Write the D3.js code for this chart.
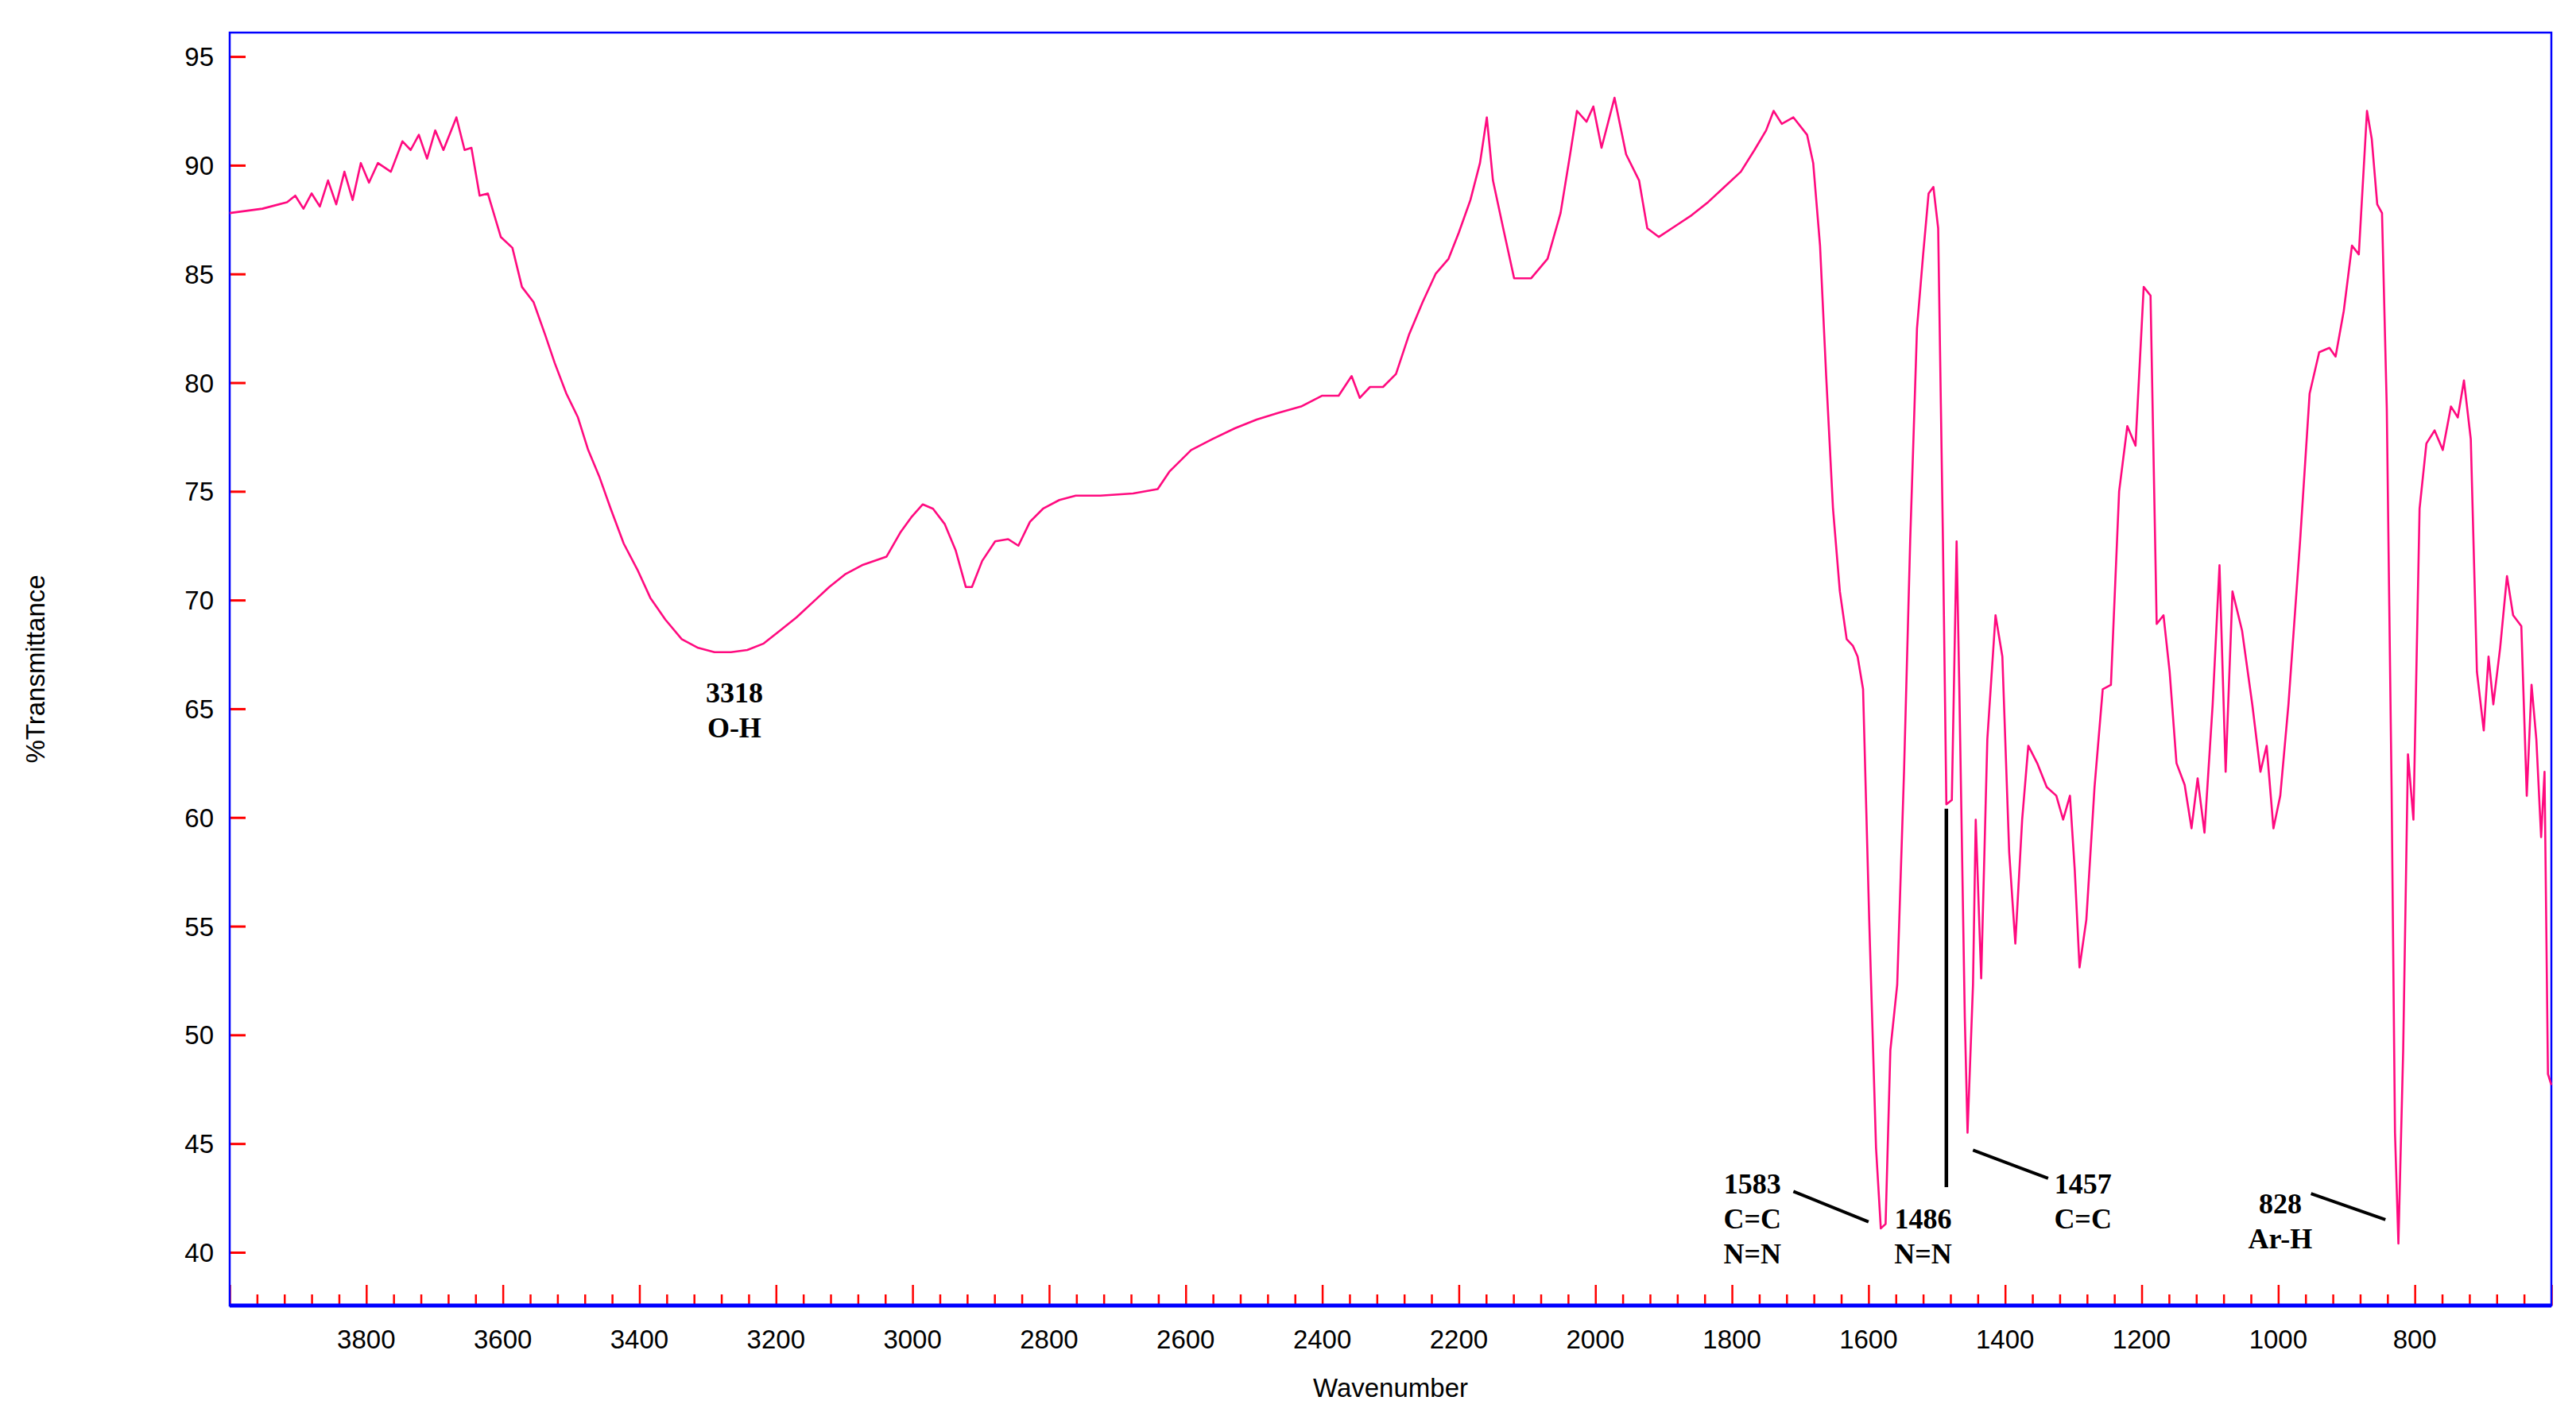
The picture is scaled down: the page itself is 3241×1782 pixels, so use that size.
<!DOCTYPE html>
<html><head><meta charset="utf-8">
<script src="https://cdn.jsdelivr.net/npm/d3@7"></script>
<style>body{margin:0;background:#fff}svg{display:block}</style>
</head><body>
<script>
const wavenumbers=[4000,3952,3916,3904,3892,3880,3868,3856,3844,3832,3820,3808,3796,3783,3764,3747,3735,3723,3711,3699,3687,3668,3656,3646,3634,3622,3603,3586,3572,3555,3538,3524,3507,3490,3475,3459,3442,3423,3403,3384,3362,3338,3314,3290,3266,3242,3218,3194,3170,3146,3122,3098,3074,3038,3018,3002,2985,2970,2953,2937,2922,2913,2898,2879,2860,2845,2828,2809,2785,2761,2725,2677,2641,2624,2592,2561,2528,2496,2465,2431,2400,2376,2357,2345,2330,2311,2292,2273,2253,2234,2215,2200,2183,2169,2159,2150,2135,2119,2094,2070,2051,2037,2027,2013,2003,1991,1972,1955,1936,1924,1907,1883,1859,1835,1811,1787,1767,1750,1739,1727,1710,1690,1681,1671,1662,1652,1642,1632,1623,1616,1608,1599,1589,1582,1575,1568,1558,1548,1539,1529,1520,1512,1505,1498,1491,1486,1478,1471,1467,1459,1455,1447,1443,1435,1426,1414,1404,1394,1385,1375,1366,1353,1339,1325,1315,1305,1298,1291,1281,1269,1257,1245,1233,1221,1209,1197,1187,1178,1168,1159,1149,1137,1127,1118,1108,1096,1086,1077,1067,1053,1038,1026,1017,1007,997,985,968,954,940,925,916,904,892,882,870,863,855,848,841,834,829,824,817,810,802,793,783,771,759,747,737,728,718,709,699,692,685,675,665,656,644,636,629,622,615,610,605,600];
const transmittance=[87.8,88.0,88.3,88.6,88.0,88.7,88.1,89.3,88.2,89.7,88.4,90.1,89.2,90.1,89.7,91.1,90.7,91.4,90.3,91.6,90.7,92.2,90.7,90.8,88.6,88.7,86.7,86.2,84.4,83.7,82.2,80.9,79.5,78.4,76.9,75.7,74.2,72.6,71.4,70.1,69.1,68.2,67.8,67.6,67.6,67.7,68.0,68.6,69.2,69.9,70.6,71.2,71.6,72.0,73.1,73.8,74.4,74.2,73.5,72.3,70.6,70.6,71.8,72.7,72.8,72.5,73.6,74.2,74.6,74.8,74.8,74.9,75.1,75.9,76.9,77.4,77.9,78.3,78.6,78.9,79.4,79.4,80.3,79.3,79.8,79.8,80.4,82.2,83.7,85.0,85.7,86.9,88.4,90.1,92.2,89.3,87.1,84.8,84.8,85.7,87.8,90.5,92.5,92.0,92.7,90.8,93.1,90.5,89.3,87.1,86.7,87.2,87.7,88.3,89.0,89.7,90.7,91.6,92.5,91.9,92.2,91.4,90.1,86.3,80.3,74.2,70.4,68.2,67.9,67.4,65.9,55.3,44.8,41.1,41.3,49.3,52.3,62.1,72.7,82.5,85.9,88.7,89.0,87.1,72.7,60.6,60.8,72.7,65.9,50.8,45.5,52.3,59.9,52.6,63.6,69.3,67.4,58.4,54.2,59.9,63.3,62.5,61.4,61.0,59.9,61.0,57.6,53.1,55.3,61.4,65.9,66.1,75.0,78.0,77.1,84.4,84.0,68.9,69.3,66.7,62.5,61.5,59.5,61.8,59.3,65.2,71.6,62.1,70.4,68.6,65.2,62.1,63.3,59.5,61.0,65.2,72.7,79.5,81.4,81.6,81.2,83.3,86.3,85.9,92.5,91.2,88.2,87.8,78.8,61.4,45.5,40.4,49.3,62.9,59.9,74.2,77.2,77.8,76.9,78.9,78.4,80.1,77.4,66.7,64.0,67.4,65.2,67.8,71.1,69.3,68.8,61.0,66.1,63.6,59.1,62.1,48.2,47.7];
const xTickLabels=[3800,3600,3400,3200,3000,2800,2600,2400,2200,2000,1800,1600,1400,1200,1000,800];
const yTickLabels=[40,45,50,55,60,65,70,75,80,85,90,95];
const peakLabels=[
 {wn:3318,lines:["3318","O-H"]},
 {wn:1583,lines:["1583","C=C","N=N"]},
 {wn:1486,lines:["1486","N=N"]},
 {wn:1457,lines:["1457","C=C"]},
 {wn:828,lines:["828","Ar-H"]}
];

const W=3241,H=1782,L=289,R=3210,T=41,B=1643;
const svg=d3.select("body").append("svg").attr("width",W).attr("height",H);
const x=d3.scaleLinear().domain([4000,600]).range([L,R]);
const y=d3.scaleLinear().domain([37.55,96.1]).range([B,T]);
const red="#ff0000",blue="#0000ff",sans="'Liberation Sans',Arial,sans-serif",serif="'Liberation Serif','Times New Roman',serif";

const ya=svg.append("g").attr("transform",`translate(${L},0)`).call(d3.axisRight(y).tickValues(yTickLabels).tickSize(20).tickFormat(""));
ya.select(".domain").remove();
ya.selectAll("line").attr("stroke",red).attr("stroke-width",3);
yTickLabels.forEach(v=>svg.append("text").attr("x",L-20).attr("y",y(v)+12).attr("text-anchor","end")
  .attr("font-family",sans).attr("font-size",33).attr("fill","#000").text(v));

const minor=d3.range(600,4001,40).filter(v=>v%200!==0);
const major=d3.range(600,4001,200);
const xa1=svg.append("g").attr("transform",`translate(0,${B})`).call(d3.axisTop(x).tickValues(minor).tickSize(14).tickFormat(""));
const xa2=svg.append("g").attr("transform",`translate(0,${B})`).call(d3.axisTop(x).tickValues(major).tickSize(26).tickFormat(""));
[xa1,xa2].forEach(g=>{g.select(".domain").remove();g.selectAll("line").attr("stroke",red).attr("stroke-width",2.5);});
xTickLabels.forEach(v=>svg.append("text").attr("x",x(v)).attr("y",B+54).attr("text-anchor","middle")
  .attr("font-family",sans).attr("font-size",33).attr("fill","#000").text(v));

svg.append("rect").attr("x",L).attr("y",T).attr("width",R-L).attr("height",B-T).attr("fill","none").attr("stroke",blue).attr("stroke-width",2.5);
svg.append("line").attr("x1",L).attr("x2",R).attr("y1",B).attr("y2",B).attr("stroke",blue).attr("stroke-width",5);

const data=wavenumbers.map((w,i)=>[w,transmittance[i]]);
svg.append("path").datum(data).attr("fill","none").attr("stroke","#ff0a7f").attr("stroke-width",2.6)
  .attr("stroke-linejoin","round").attr("d",d3.line().x(d=>x(d[0])).y(d=>y(d[1])));

const ann=svg.append("g").attr("font-family",serif).attr("font-weight","bold").attr("font-size",36).attr("fill","#000").attr("text-anchor","middle");
function lab(wn,yv,lines){lines.forEach((t,i)=>ann.append("text").attr("x",x(wn)).attr("y",y(yv)+i*44).text(t));}
function seg(w1,v1,w2,v2,sw){svg.append("line").attr("x1",x(w1)).attr("y1",y(v1)).attr("x2",x(w2)).attr("y2",y(v2)).attr("stroke","#000").attr("stroke-width",sw||4);}
lab(3261,65.3,peakLabels[0].lines);
lab(1770,42.7,peakLabels[1].lines);
seg(1710,42.8,1600,41.4);
lab(1520,41.1,peakLabels[2].lines);
seg(1486,60.4,1486,43.0,4.5);
lab(1286,42.7,peakLabels[3].lines);
seg(1447,44.7,1337,43.4);
lab(997,41.8,peakLabels[4].lines);
seg(952,42.7,843,41.5);

svg.append("text").attr("x",(L+R)/2).attr("y",1758).attr("text-anchor","middle").attr("font-family",sans).attr("font-size",33).text("Wavenumber");
svg.append("text").attr("transform",`translate(56,${(T+B)/2}) rotate(-90)`).attr("text-anchor","middle").attr("font-family",sans).attr("font-size",33).text("%Transmittance");
</script>
</body></html>
